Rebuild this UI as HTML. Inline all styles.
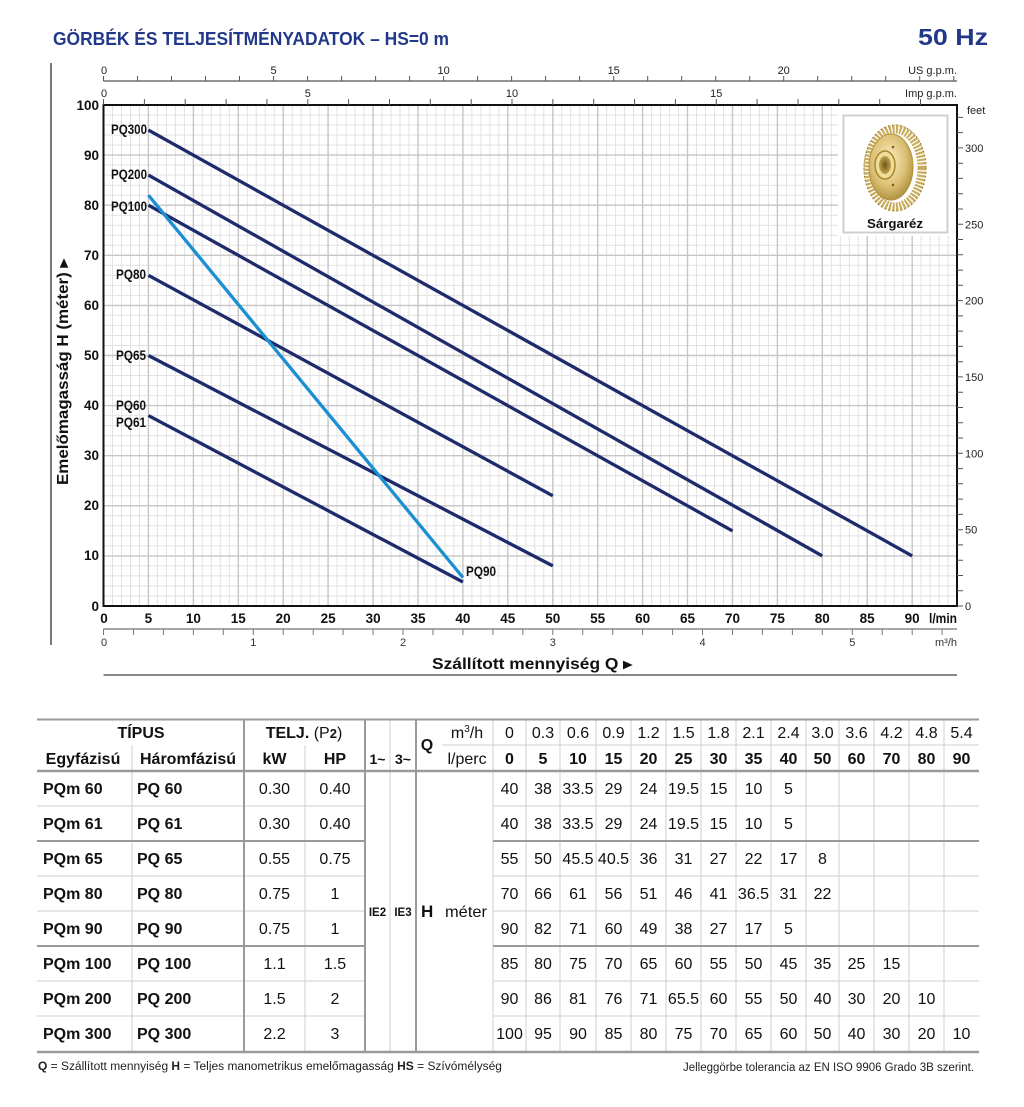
<!DOCTYPE html>
<html><head><meta charset="utf-8">
<style>
html,body{margin:0;padding:0;background:#fff;}
svg{display:block;}
.n{font-family:"Liberation Sans Narrow","Liberation Sans",sans-serif;}
.s{font-family:"Liberation Sans",sans-serif;}
</style></head>
<body>
<svg width="1024" height="1107" viewBox="0 0 1024 1107" xmlns="http://www.w3.org/2000/svg">
<defs>
<radialGradient id="gd" cx="45%" cy="40%" r="65%">
<stop offset="0" stop-color="#fbf1c6"/><stop offset="0.6" stop-color="#dcc075"/><stop offset="1" stop-color="#a88a35"/>
</radialGradient>
<radialGradient id="hb" cx="50%" cy="50%" r="55%">
<stop offset="0" stop-color="#6e561b"/><stop offset="1" stop-color="#c9ab55"/>
</radialGradient>
</defs>
<rect width="1024" height="1107" fill="#fff"/>

<!-- Title -->
<text x="53" y="45" class="s" font-weight="bold" font-size="18" fill="#22398a" textLength="396" lengthAdjust="spacingAndGlyphs">GÖRBÉK ÉS TELJESÍTMÉNYADATOK  –  HS=0 m</text>
<text x="988" y="45" class="s" font-weight="bold" font-size="23" fill="#22398a" text-anchor="end" textLength="70" lengthAdjust="spacingAndGlyphs">50 Hz</text>

<!-- left rule -->
<line x1="51" y1="63" x2="51" y2="645" stroke="#777" stroke-width="2"/>

<!-- grid minor -->
<path fill="none" stroke="#e2e2e2" stroke-width="1" d="M112.5 105V606M121.5 105V606M130.5 105V606M139.4 105V606M157.4 105V606M166.4 105V606M175.4 105V606M184.4 105V606M202.3 105V606M211.3 105V606M220.3 105V606M229.3 105V606M247.3 105V606M256.2 105V606M265.2 105V606M274.2 105V606M292.2 105V606M301.2 105V606M310.2 105V606M319.1 105V606M337.1 105V606M346.1 105V606M355.1 105V606M364.1 105V606M382 105V606M391 105V606M400 105V606M409 105V606M427 105V606M435.9 105V606M444.9 105V606M453.9 105V606M471.9 105V606M480.9 105V606M489.9 105V606M498.8 105V606M516.8 105V606M525.8 105V606M534.8 105V606M543.8 105V606M561.7 105V606M570.7 105V606M579.7 105V606M588.7 105V606M606.7 105V606M615.6 105V606M624.6 105V606M633.6 105V606M651.6 105V606M660.6 105V606M669.6 105V606M678.5 105V606M696.5 105V606M705.5 105V606M714.5 105V606M723.5 105V606M741.4 105V606M750.4 105V606M759.4 105V606M768.4 105V606M786.4 105V606M795.3 105V606M804.3 105V606M813.3 105V606M831.3 105V606M840.3 105V606M849.3 105V606M858.2 105V606M876.2 105V606M885.2 105V606M894.2 105V606M903.2 105V606M921.1 105V606M930.1 105V606M939.1 105V606M948.1 105V606
M103.5 596H957M103.5 586H957M103.5 575.9H957M103.5 565.9H957M103.5 545.9H957M103.5 535.9H957M103.5 525.8H957M103.5 515.8H957M103.5 495.8H957M103.5 485.8H957M103.5 475.7H957M103.5 465.7H957M103.5 445.7H957M103.5 435.7H957M103.5 425.6H957M103.5 415.6H957M103.5 395.6H957M103.5 385.6H957M103.5 375.5H957M103.5 365.5H957M103.5 345.5H957M103.5 335.5H957M103.5 325.4H957M103.5 315.4H957M103.5 295.4H957M103.5 285.4H957M103.5 275.3H957M103.5 265.3H957M103.5 245.3H957M103.5 235.3H957M103.5 225.2H957M103.5 215.2H957M103.5 195.2H957M103.5 185.2H957M103.5 175.1H957M103.5 165.1H957M103.5 145.1H957M103.5 135.1H957M103.5 125H957M103.5 115H957"/>
<!-- grid major -->
<path fill="none" stroke="#c6c6c6" stroke-width="1.4" d="M148.4 105V606M193.4 105V606M238.3 105V606M283.2 105V606M328.1 105V606M373.1 105V606M418 105V606M462.9 105V606M507.8 105V606M552.8 105V606M597.7 105V606M642.6 105V606M687.5 105V606M732.5 105V606M777.4 105V606M822.3 105V606M867.2 105V606M912.2 105V606
M103.5 555.9H957M103.5 505.8H957M103.5 455.7H957M103.5 405.6H957M103.5 355.5H957M103.5 305.4H957M103.5 255.3H957M103.5 205.2H957M103.5 155.1H957"/>

<!-- impeller area -->
<rect x="838" y="106" width="118" height="130" fill="#fff"/>
<rect x="843.5" y="115.5" width="104" height="117" fill="#fff" stroke="#cfcfcf" stroke-width="2"/>
<ellipse cx="895" cy="168" rx="27" ry="39" fill="none" stroke="#c9ad5c" stroke-width="9" stroke-dasharray="2.2 1.3"/>
<ellipse cx="895" cy="168" rx="31" ry="43" fill="none" stroke="#8a7330" stroke-width="1.2" stroke-dasharray="1 3"/>
<ellipse cx="891" cy="167" rx="22" ry="33" fill="url(#gd)" stroke="#b39440" stroke-width="1"/>
<ellipse cx="885" cy="165" rx="10" ry="14" fill="#efdc9a" stroke="#a8862e" stroke-width="1.5"/>
<ellipse cx="885" cy="165" rx="6" ry="9" fill="url(#hb)"/>
<circle cx="893" cy="147" r="1.3" fill="#7c6422"/>
<circle cx="893" cy="185" r="1.3" fill="#7c6422"/>
<text x="895" y="228" class="s" font-weight="bold" font-size="12.5" text-anchor="middle" fill="#111" textLength="56" lengthAdjust="spacingAndGlyphs">Sárgaréz</text>

<!-- plot frame -->
<rect x="103.5" y="105" width="853.5" height="501" fill="none" stroke="#111" stroke-width="2"/>

<!-- series (straight) -->
<g fill="none" stroke-linecap="butt" stroke-width="3.3">
<line stroke="#1d2a6b" x1="148.4" y1="130.1" x2="912.2" y2="555.9"/>
<line stroke="#1d2a6b" x1="148.4" y1="175.1" x2="822.3" y2="555.9"/>
<line stroke="#1d2a6b" x1="148.4" y1="205.2" x2="732.5" y2="530.9"/>
<line stroke="#1d2a6b" x1="148.4" y1="275.3" x2="552.8" y2="495.8"/>
<line stroke="#1d2a6b" x1="148.4" y1="355.5" x2="552.8" y2="565.9"/>
<line stroke="#1d2a6b" x1="148.4" y1="415.6" x2="462.9" y2="582"/>
<line stroke="#1a8fd1" x1="148.4" y1="195.2" x2="462.9" y2="577.5"/>
</g>

<!-- series labels -->
<g class="n" font-weight="bold" font-size="14" fill="#111">
<text x="147" y="134" text-anchor="end" textLength="36" lengthAdjust="spacingAndGlyphs">PQ300</text>
<text x="147" y="179" text-anchor="end" textLength="36" lengthAdjust="spacingAndGlyphs">PQ200</text>
<text x="147" y="211" text-anchor="end" textLength="36" lengthAdjust="spacingAndGlyphs">PQ100</text>
<text x="146" y="279" text-anchor="end" textLength="30" lengthAdjust="spacingAndGlyphs">PQ80</text>
<text x="146" y="360" text-anchor="end" textLength="30" lengthAdjust="spacingAndGlyphs">PQ65</text>
<text x="146" y="410" text-anchor="end" textLength="30" lengthAdjust="spacingAndGlyphs">PQ60</text>
<text x="146" y="427" text-anchor="end" textLength="30" lengthAdjust="spacingAndGlyphs">PQ61</text>
<text x="466" y="576" textLength="30" lengthAdjust="spacingAndGlyphs">PQ90</text>
</g>

<!-- Y labels left -->
<g class="n" font-weight="bold" font-size="13.5" fill="#111" text-anchor="end">
<text x="99" y="110">100</text><text x="99" y="160">90</text><text x="99" y="210">80</text><text x="99" y="260">70</text><text x="99" y="310">60</text><text x="99" y="360">50</text><text x="99" y="410">40</text><text x="99" y="460">30</text><text x="99" y="510">20</text><text x="99" y="560">10</text><text x="99" y="611">0</text>
</g>
<text transform="translate(68,372) rotate(-90)" class="s" font-weight="bold" font-size="15.5" fill="#111" text-anchor="middle" textLength="226" lengthAdjust="spacingAndGlyphs">Emelőmagasság  H  (méter) ▸</text>

<!-- X labels bottom -->
<g class="n" font-weight="bold" font-size="13.5" fill="#111" text-anchor="middle">
<text x="104" y="623">0</text><text x="148.4" y="623">5</text><text x="193.4" y="623">10</text><text x="238.3" y="623">15</text><text x="283.2" y="623">20</text><text x="328.1" y="623">25</text><text x="373.1" y="623">30</text><text x="418" y="623">35</text><text x="462.9" y="623">40</text><text x="507.8" y="623">45</text><text x="552.8" y="623">50</text><text x="597.7" y="623">55</text><text x="642.6" y="623">60</text><text x="687.5" y="623">65</text><text x="732.5" y="623">70</text><text x="777.4" y="623">75</text><text x="822.3" y="623">80</text><text x="867.2" y="623">85</text><text x="912.2" y="623">90</text>
</g>
<text x="957" y="623" class="n" font-weight="bold" font-size="13.5" fill="#111" text-anchor="end" textLength="28" lengthAdjust="spacingAndGlyphs">l/min</text>

<!-- m3/h axis -->
<line x1="103.5" y1="629" x2="957" y2="629" stroke="#888" stroke-width="1.5"/>
<path stroke="#777" stroke-width="1" fill="none" d="M103.5 629v6M133.5 629v6M163.4 629v6M193.4 629v6M223.3 629v6M253.3 629v6M283.2 629v6M313.2 629v6M343.1 629v6M373.1 629v6M403 629v6M433 629v6M462.9 629v6M492.9 629v6M522.8 629v6M552.8 629v6M582.7 629v6M612.7 629v6M642.6 629v6M672.6 629v6M702.5 629v6M732.5 629v6M762.4 629v6M792.4 629v6M822.3 629v6M852.3 629v6M882.2 629v6M912.2 629v6M942.1 629v6"/>
<g class="n" font-size="11" fill="#333" text-anchor="middle">
<text x="104" y="646">0</text><text x="253.3" y="646">1</text><text x="403" y="646">2</text><text x="552.8" y="646">3</text><text x="702.5" y="646">4</text><text x="852.3" y="646">5</text>
</g>
<text x="957" y="646" class="n" font-size="11" fill="#333" text-anchor="end">m³/h</text>
<text x="432" y="669" class="s" font-weight="bold" font-size="15.5" fill="#111" textLength="200" lengthAdjust="spacingAndGlyphs">Szállított mennyiség  Q  ▸</text>
<line x1="103.5" y1="675" x2="957" y2="675" stroke="#888" stroke-width="2"/>

<!-- top US gpm axis -->
<line x1="103.5" y1="81" x2="957" y2="81" stroke="#555" stroke-width="1.2"/>
<path stroke="#555" stroke-width="1" fill="none" d="M103.5 81v-5M137.5 81v-5M171.5 81v-5M205.5 81v-5M239.5 81v-5M273.6 81v-5M307.6 81v-5M341.6 81v-5M375.6 81v-5M409.6 81v-5M443.6 81v-5M477.6 81v-5M511.6 81v-5M545.6 81v-5M579.6 81v-5M613.7 81v-5M647.7 81v-5M681.7 81v-5M715.7 81v-5M749.7 81v-5M783.7 81v-5M817.7 81v-5M851.7 81v-5M885.7 81v-5M919.7 81v-5M953.8 81v-5"/>
<g class="n" font-size="11" fill="#222" text-anchor="middle">
<text x="104" y="74">0</text><text x="273.6" y="74">5</text><text x="443.6" y="74">10</text><text x="613.7" y="74">15</text><text x="783.7" y="74">20</text>
</g>
<text x="957" y="74" class="n" font-size="11" fill="#222" text-anchor="end">US g.p.m.</text>

<!-- top Imp gpm axis -->
<path stroke="#555" stroke-width="1" fill="none" d="M103.5 105v-6M144.4 105v-6M185.2 105v-6M226.1 105v-6M266.9 105v-6M307.8 105v-6M348.6 105v-6M389.5 105v-6M430.3 105v-6M471.2 105v-6M512 105v-6M552.9 105v-6M593.7 105v-6M634.6 105v-6M675.4 105v-6M716.3 105v-6M757.1 105v-6M798 105v-6M838.8 105v-6M879.7 105v-6M920.5 105v-6"/>
<g class="n" font-size="11" fill="#222" text-anchor="middle">
<text x="104" y="97">0</text><text x="307.8" y="97">5</text><text x="512" y="97">10</text><text x="716.3" y="97">15</text>
</g>
<text x="957" y="97" class="n" font-size="11" fill="#222" text-anchor="end">Imp g.p.m.</text>

<!-- right feet axis -->
<path stroke="#555" stroke-width="1" fill="none" d="M957 606h6M957 590.7h6M957 575.5h6M957 560.2h6M957 544.9h6M957 529.7h6M957 514.4h6M957 499.1h6M957 483.8h6M957 468.6h6M957 453.3h6M957 438h6M957 422.8h6M957 407.5h6M957 392.2h6M957 376.9h6M957 361.7h6M957 346.4h6M957 331.1h6M957 315.9h6M957 300.6h6M957 285.3h6M957 270.1h6M957 254.8h6M957 239.5h6M957 224.3h6M957 209h6M957 193.7h6M957 178.4h6M957 163.2h6M957 147.9h6M957 132.6h6M957 117.4h6"/>
<g class="n" font-size="11" fill="#222">
<text x="965" y="610">0</text><text x="965" y="533.7">50</text><text x="965" y="457.3">100</text><text x="965" y="380.9">150</text><text x="965" y="304.6">200</text><text x="965" y="228.3">250</text><text x="965" y="151.9">300</text><text x="967" y="114">feet</text>
</g>

<!-- TABLE lines -->
<g fill="none">
<path stroke="#cfcfcf" stroke-width="1" d="M442 745H979M37 806H365M493 806H979M37 876H365M493 876H979M37 911H365M493 911H979M37 981H365M493 981H979M37 1016H365M493 1016H979
M132 745V1052M305 745V1052M390 719V1052M493 719V1052M526 719V1052M560 719V1052M596 719V1052M631 719V1052M666 719V1052M701 719V1052M736 719V1052M771 719V1052M806 719V1052M839 719V1052M874 719V1052M909 719V1052M944 719V1052"/>
<path stroke="#9a9a9a" stroke-width="2" d="M37 841H365M493 841H979M37 946H365M493 946H979M244 719V1052M365 719V1052M416 719V1052"/>
<path stroke="#9a9a9a" stroke-width="2" d="M37 719.5H979"/>
<path stroke="#9a9a9a" stroke-width="2.5" d="M37 771H979M37 1052H979"/>
</g>

<!-- TABLE header -->
<g class="s" font-size="16" fill="#111">
<text x="141" y="738" font-weight="bold" text-anchor="middle">TÍPUS</text>
<text x="304" y="738" text-anchor="middle"><tspan font-weight="bold">TELJ.</tspan> (P<tspan font-size="13" font-weight="bold">2</tspan>)</text>
<text x="83" y="764" font-weight="bold" text-anchor="middle">Egyfázisú</text>
<text x="188" y="764" font-weight="bold" text-anchor="middle">Háromfázisú</text>
<text x="274.5" y="764" font-weight="bold" text-anchor="middle">kW</text>
<text x="335" y="764" font-weight="bold" text-anchor="middle">HP</text>
<text x="377.5" y="764" font-weight="bold" font-size="14" text-anchor="middle">1~</text>
<text x="403" y="764" font-weight="bold" font-size="14" text-anchor="middle">3~</text>
<text x="427" y="750" font-weight="bold" text-anchor="middle">Q</text>
<text x="467" y="738" text-anchor="middle">m<tspan font-size="10" dy="-6">3</tspan><tspan dy="6">/h</tspan></text>
<text x="467" y="764" text-anchor="middle">l/perc</text>
</g>
<g class="s" font-size="16" fill="#111" text-anchor="middle">
<text x="509.5" y="738">0</text><text x="543" y="738">0.3</text><text x="578" y="738">0.6</text><text x="613.5" y="738">0.9</text><text x="648.5" y="738">1.2</text><text x="683.5" y="738">1.5</text><text x="718.5" y="738">1.8</text><text x="753.5" y="738">2.1</text><text x="788.5" y="738">2.4</text><text x="822.5" y="738">3.0</text><text x="856.5" y="738">3.6</text><text x="891.5" y="738">4.2</text><text x="926.5" y="738">4.8</text><text x="961.5" y="738">5.4</text>
</g>
<g class="s" font-size="16" font-weight="bold" fill="#111" text-anchor="middle">
<text x="509.5" y="764">0</text><text x="543" y="764">5</text><text x="578" y="764">10</text><text x="613.5" y="764">15</text><text x="648.5" y="764">20</text><text x="683.5" y="764">25</text><text x="718.5" y="764">30</text><text x="753.5" y="764">35</text><text x="788.5" y="764">40</text><text x="822.5" y="764">50</text><text x="856.5" y="764">60</text><text x="891.5" y="764">70</text><text x="926.5" y="764">80</text><text x="961.5" y="764">90</text>
</g>

<!-- TABLE left columns -->
<g class="s" font-size="16" font-weight="bold" fill="#111">
<text x="43" y="794">PQm 60</text><text x="137" y="794">PQ 60</text>
<text x="43" y="829">PQm 61</text><text x="137" y="829">PQ 61</text>
<text x="43" y="864">PQm 65</text><text x="137" y="864">PQ 65</text>
<text x="43" y="899">PQm 80</text><text x="137" y="899">PQ 80</text>
<text x="43" y="934">PQm 90</text><text x="137" y="934">PQ 90</text>
<text x="43" y="969">PQm 100</text><text x="137" y="969">PQ 100</text>
<text x="43" y="1004">PQm 200</text><text x="137" y="1004">PQ 200</text>
<text x="43" y="1039">PQm 300</text><text x="137" y="1039">PQ 300</text>
</g>
<g class="s" font-size="16" fill="#111" text-anchor="middle">
<text x="274.5" y="794">0.30</text><text x="335" y="794">0.40</text>
<text x="274.5" y="829">0.30</text><text x="335" y="829">0.40</text>
<text x="274.5" y="864">0.55</text><text x="335" y="864">0.75</text>
<text x="274.5" y="899">0.75</text><text x="335" y="899">1</text>
<text x="274.5" y="934">0.75</text><text x="335" y="934">1</text>
<text x="274.5" y="969">1.1</text><text x="335" y="969">1.5</text>
<text x="274.5" y="1004">1.5</text><text x="335" y="1004">2</text>
<text x="274.5" y="1039">2.2</text><text x="335" y="1039">3</text>
</g>
<g class="s" fill="#111">
<text x="377.5" y="916" font-size="11.5" font-weight="bold" text-anchor="middle">IE2</text>
<text x="403" y="916" font-size="11.5" font-weight="bold" text-anchor="middle">IE3</text>
<text x="421" y="917" font-size="17" font-weight="bold">H</text>
<text x="445" y="917" font-size="16" textLength="42" lengthAdjust="spacingAndGlyphs">méter</text>
</g>

<!-- TABLE data -->
<g class="s" font-size="16" fill="#111" text-anchor="middle">
<text x="509.5" y="794">40</text><text x="543" y="794">38</text><text x="578" y="794">33.5</text><text x="613.5" y="794">29</text><text x="648.5" y="794">24</text><text x="683.5" y="794">19.5</text><text x="718.5" y="794">15</text><text x="753.5" y="794">10</text><text x="788.5" y="794">5</text>
<text x="509.5" y="829">40</text><text x="543" y="829">38</text><text x="578" y="829">33.5</text><text x="613.5" y="829">29</text><text x="648.5" y="829">24</text><text x="683.5" y="829">19.5</text><text x="718.5" y="829">15</text><text x="753.5" y="829">10</text><text x="788.5" y="829">5</text>
<text x="509.5" y="864">55</text><text x="543" y="864">50</text><text x="578" y="864">45.5</text><text x="613.5" y="864">40.5</text><text x="648.5" y="864">36</text><text x="683.5" y="864">31</text><text x="718.5" y="864">27</text><text x="753.5" y="864">22</text><text x="788.5" y="864">17</text><text x="822.5" y="864">8</text>
<text x="509.5" y="899">70</text><text x="543" y="899">66</text><text x="578" y="899">61</text><text x="613.5" y="899">56</text><text x="648.5" y="899">51</text><text x="683.5" y="899">46</text><text x="718.5" y="899">41</text><text x="753.5" y="899">36.5</text><text x="788.5" y="899">31</text><text x="822.5" y="899">22</text>
<text x="509.5" y="934">90</text><text x="543" y="934">82</text><text x="578" y="934">71</text><text x="613.5" y="934">60</text><text x="648.5" y="934">49</text><text x="683.5" y="934">38</text><text x="718.5" y="934">27</text><text x="753.5" y="934">17</text><text x="788.5" y="934">5</text>
<text x="509.5" y="969">85</text><text x="543" y="969">80</text><text x="578" y="969">75</text><text x="613.5" y="969">70</text><text x="648.5" y="969">65</text><text x="683.5" y="969">60</text><text x="718.5" y="969">55</text><text x="753.5" y="969">50</text><text x="788.5" y="969">45</text><text x="822.5" y="969">35</text><text x="856.5" y="969">25</text><text x="891.5" y="969">15</text>
<text x="509.5" y="1004">90</text><text x="543" y="1004">86</text><text x="578" y="1004">81</text><text x="613.5" y="1004">76</text><text x="648.5" y="1004">71</text><text x="683.5" y="1004">65.5</text><text x="718.5" y="1004">60</text><text x="753.5" y="1004">55</text><text x="788.5" y="1004">50</text><text x="822.5" y="1004">40</text><text x="856.5" y="1004">30</text><text x="891.5" y="1004">20</text><text x="926.5" y="1004">10</text>
<text x="509.5" y="1039">100</text><text x="543" y="1039">95</text><text x="578" y="1039">90</text><text x="613.5" y="1039">85</text><text x="648.5" y="1039">80</text><text x="683.5" y="1039">75</text><text x="718.5" y="1039">70</text><text x="753.5" y="1039">65</text><text x="788.5" y="1039">60</text><text x="822.5" y="1039">50</text><text x="856.5" y="1039">40</text><text x="891.5" y="1039">30</text><text x="926.5" y="1039">20</text><text x="961.5" y="1039">10</text>
</g>

<!-- footer -->
<text x="38" y="1070" class="s" font-size="11.5" fill="#222" textLength="464" lengthAdjust="spacingAndGlyphs"><tspan font-weight="bold">Q</tspan> = Szállított mennyiség   <tspan font-weight="bold">H</tspan> = Teljes manometrikus emelőmagasság  <tspan font-weight="bold">HS</tspan> = Szívómélység</text>
<text x="974" y="1071" class="s" font-size="11.5" fill="#222" text-anchor="end" textLength="291" lengthAdjust="spacingAndGlyphs">Jelleggörbe tolerancia az EN ISO 9906 Grado 3B szerint.</text>
</svg>
</body></html>
